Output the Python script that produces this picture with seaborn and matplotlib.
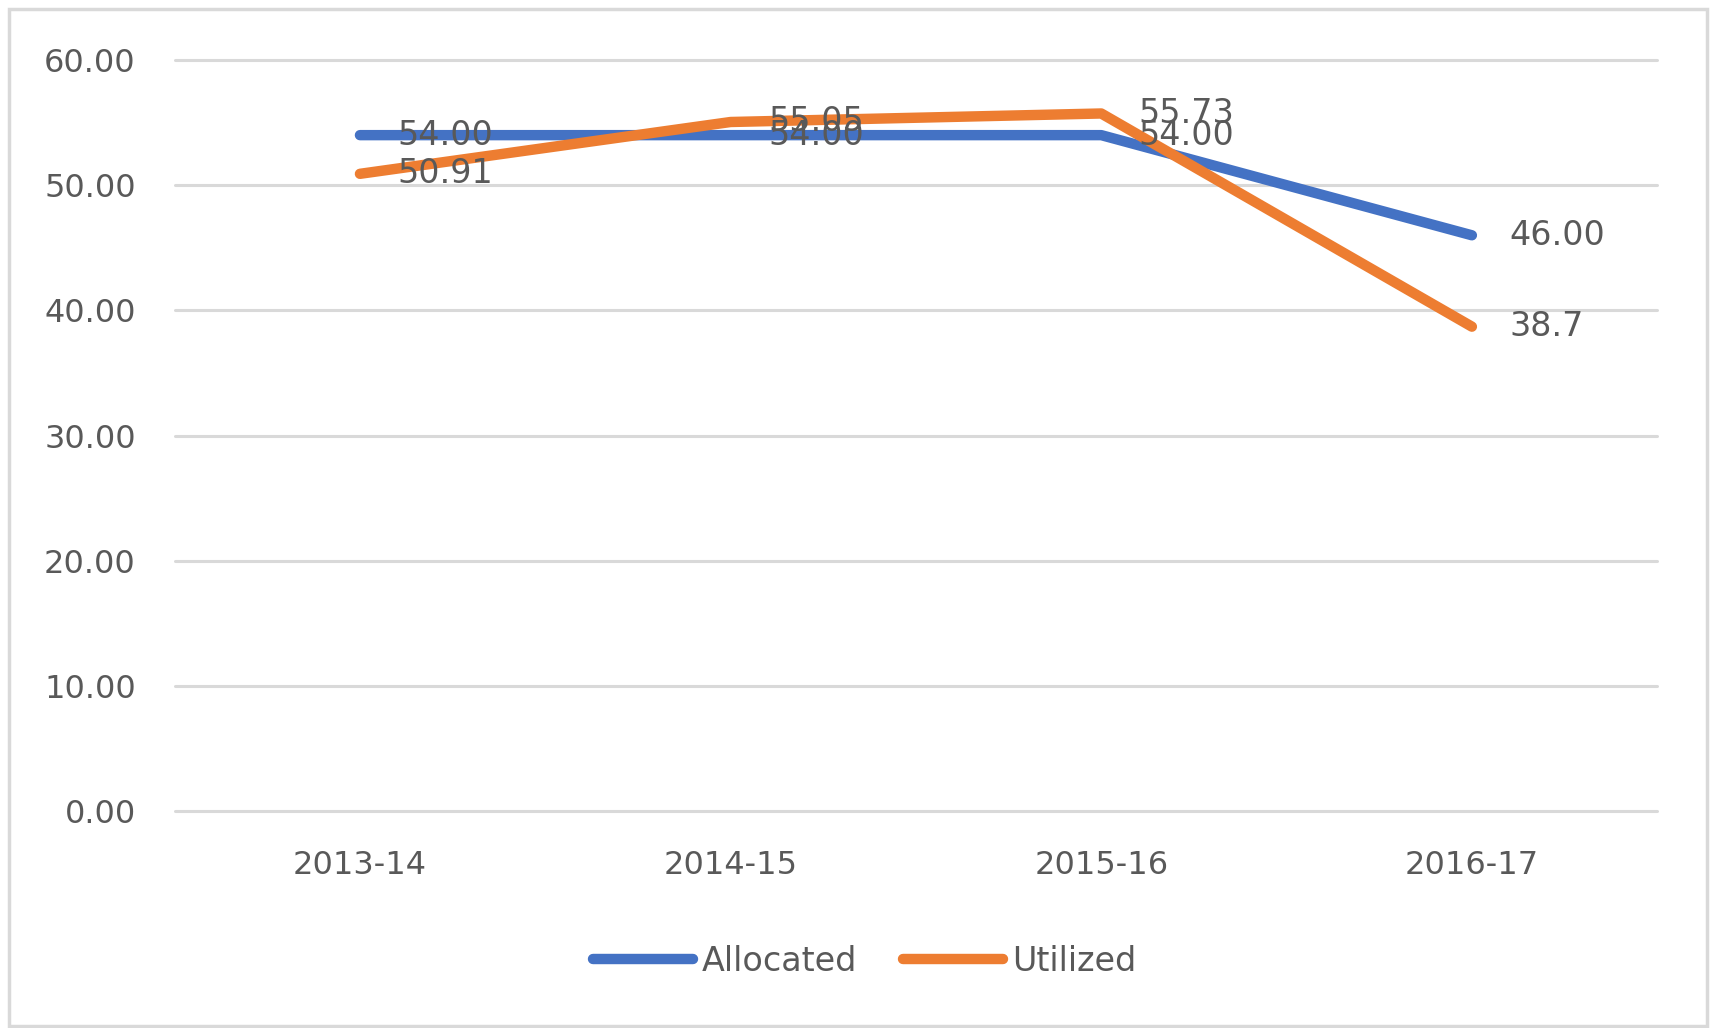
import matplotlib
matplotlib.use("Agg")
import matplotlib.pyplot as plt
import seaborn as sns
import pandas as pd
from matplotlib.patches import Rectangle

# data
years = ["2013-14", "2014-15", "2015-16", "2016-17"]
allocated = [54.00, 54.00, 54.00, 46.00]
utilized = [50.91, 55.05, 55.73, 38.7]
allocated_labels = ["54.00", "54.00", "54.00", "46.00"]
utilized_labels = ["50.91", "55.05", "55.73", "38.7"]

df = pd.DataFrame({
    "year": years * 2,
    "value": allocated + utilized,
    "series": ["Allocated"] * 4 + ["Utilized"] * 4,
})

sns.set_style("white")
plt.rcParams["font.family"] = ["DejaVu Sans"]
grey = "#595959"
colors = {"Allocated": "#4472C4", "Utilized": "#ED7D31"}

fig = plt.figure(figsize=(17.12, 10.28), dpi=100)
ax = fig.add_axes([0.102, 0.211, 0.866, 0.7306])

sns.lineplot(data=df, x="year", y="value", hue="series", palette=colors,
             linewidth=7.5, ax=ax, sort=False, legend=True)
for ln in ax.lines:
    ln.set_solid_capstyle("round")
    ln.set_solid_joinstyle("round")

# data labels to the right of each point (overlaps as in the original)
for i in range(len(years)):
    ax.annotate(allocated_labels[i], (i, allocated[i]), xytext=(27, 0),
                textcoords="offset points", va="center", ha="left",
                fontsize=24, color=grey)
    ax.annotate(utilized_labels[i], (i, utilized[i]), xytext=(27, 0),
                textcoords="offset points", va="center", ha="left",
                fontsize=24, color=grey)

ax.set_xlim(-0.5, 3.5)
ax.set_ylim(0, 60)
ax.set_yticks(range(0, 61, 10))
ax.set_yticklabels([f"{v:.2f}" for v in range(0, 61, 10)])
ax.yaxis.grid(True, color="#d9d9d9", linewidth=2.2)
for gl in ax.get_ygridlines():
    gl.set_clip_on(False)
ax.set_axisbelow(True)
for s in ax.spines.values():
    s.set_visible(False)
ax.tick_params(axis="both", length=0, labelsize=23, labelcolor=grey)
ax.tick_params(axis="y", pad=28)
ax.tick_params(axis="x", pad=28)
ax.set_xlabel("")
ax.set_ylabel("")

handles, labels = ax.get_legend_handles_labels()
ax.get_legend().remove()
leg = fig.legend(handles, labels, loc="center", bbox_to_anchor=(0.505, 0.065),
                 ncol=2, frameon=False, fontsize=24, labelcolor=grey,
                 handlelength=3.0, handletextpad=0.25, columnspacing=1.4)
for h in leg.get_lines():
    h.set_linewidth(7.5)
    h.set_solid_capstyle("round")

# outer chart border
fig.patches.append(Rectangle((0.0055, 0.002), 0.9915, 0.989, transform=fig.transFigure,
                             fill=False, edgecolor="#d9d9d9", linewidth=2.5))

fig.savefig("out.png", dpi=100)
